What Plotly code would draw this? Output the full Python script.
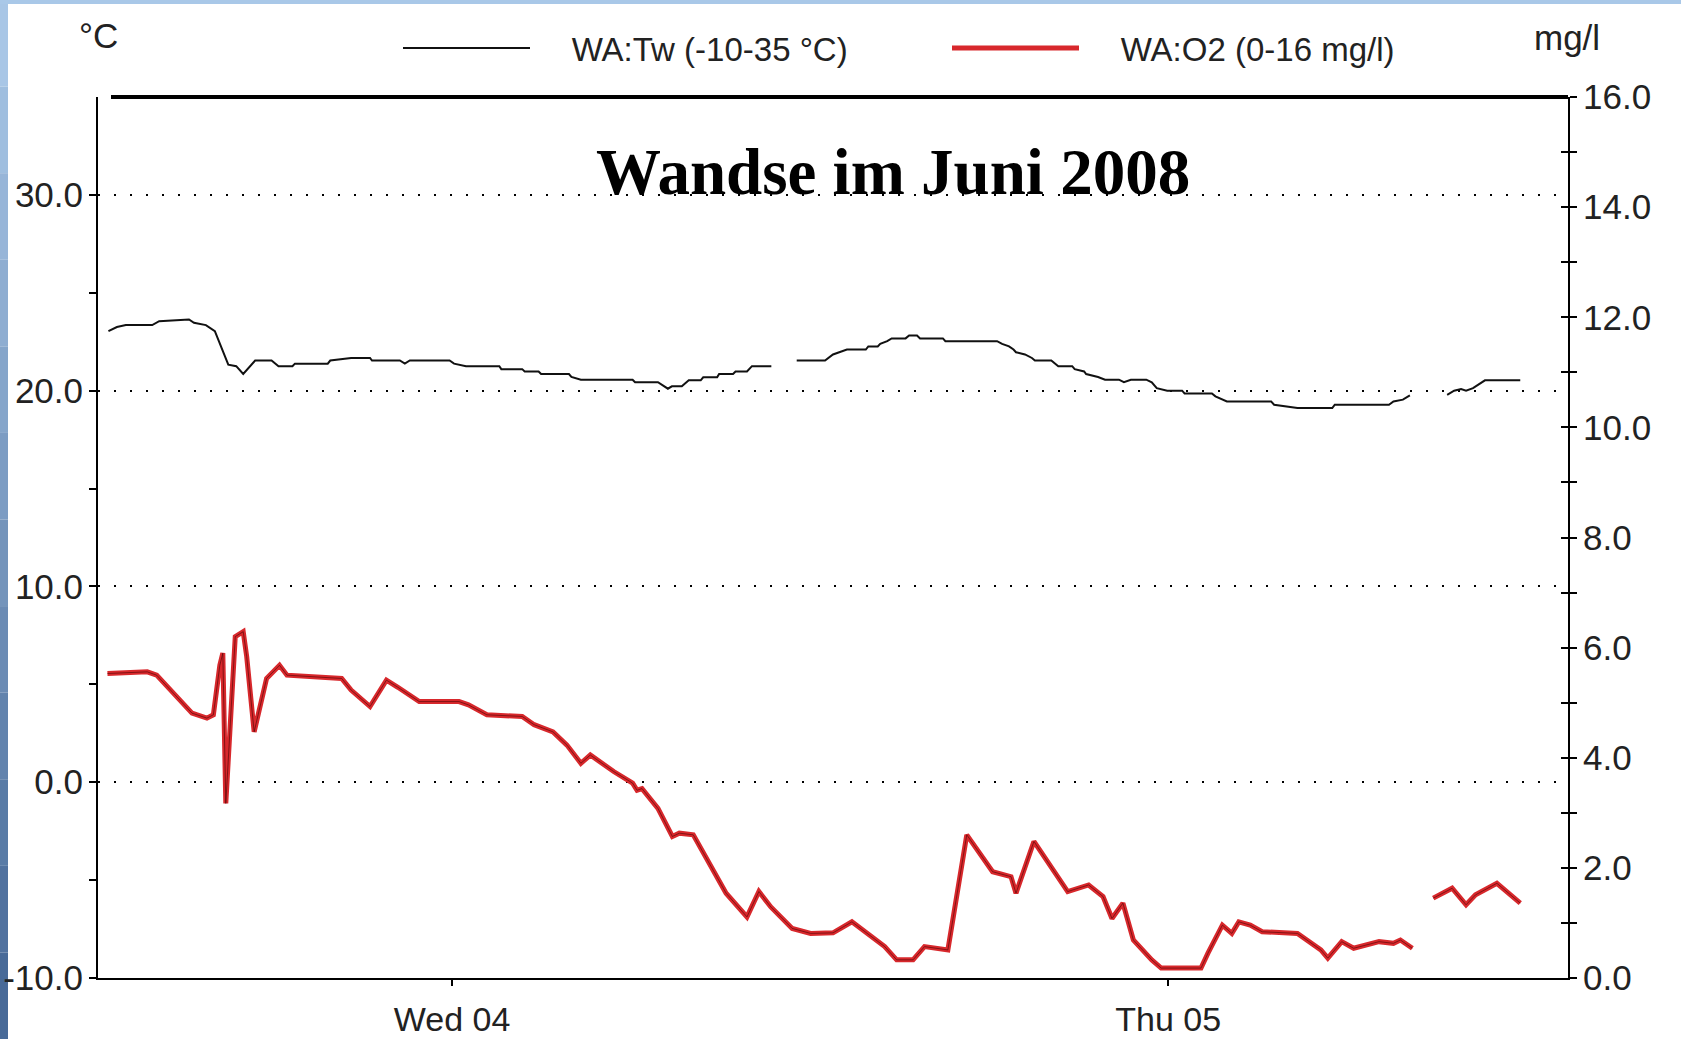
import plotly.graph_objects as go

# ---------------- data ----------------
temp_time = [
    "2008-06-03 12:29", "2008-06-03 12:46", "2008-06-03 13:04", "2008-06-03 13:57",
    "2008-06-03 14:11", "2008-06-03 15:11", "2008-06-03 15:21", "2008-06-03 15:45",
    "2008-06-03 16:03", "2008-06-03 16:17", "2008-06-03 16:30", "2008-06-03 16:46",
    "2008-06-03 17:00", "2008-06-03 17:24", "2008-06-03 17:57", "2008-06-03 18:11",
    "2008-06-03 18:39", "2008-06-03 18:44", "2008-06-03 19:50", "2008-06-03 19:55",
    "2008-06-03 20:37", "2008-06-03 21:15", "2008-06-03 21:19", "2008-06-03 22:15",
    "2008-06-03 22:25", "2008-06-03 22:35", "2008-06-03 23:55", "2008-06-04 00:04",
    "2008-06-04 00:28", "2008-06-04 01:35", "2008-06-04 01:39", "2008-06-04 02:21",
    "2008-06-04 02:26", "2008-06-04 02:54", "2008-06-04 02:59", "2008-06-04 03:55",
    "2008-06-04 04:00", "2008-06-04 04:19", "2008-06-04 06:03", "2008-06-04 06:08",
    "2008-06-04 06:54", "2008-06-04 07:14", "2008-06-04 07:22", "2008-06-04 07:42",
    "2008-06-04 07:56", "2008-06-04 08:20", "2008-06-04 08:25", "2008-06-04 08:53",
    "2008-06-04 08:57", "2008-06-04 09:25", "2008-06-04 09:30", "2008-06-04 09:53",
    "2008-06-04 10:03", "2008-06-04 10:42", "2008-06-04 11:08", "2008-06-04 11:33",
    "2008-06-04 12:30", "2008-06-04 12:46", "2008-06-04 12:56", "2008-06-04 13:14",
    "2008-06-04 13:52", "2008-06-04 13:57", "2008-06-04 14:16", "2008-06-04 14:21",
    "2008-06-04 14:35", "2008-06-04 14:44", "2008-06-04 15:12", "2008-06-04 15:19",
    "2008-06-04 15:35", "2008-06-04 15:41", "2008-06-04 16:27", "2008-06-04 16:32",
    "2008-06-04 18:16", "2008-06-04 18:26", "2008-06-04 18:40", "2008-06-04 18:49",
    "2008-06-04 18:54", "2008-06-04 19:12", "2008-06-04 19:26", "2008-06-04 19:32",
    "2008-06-04 20:05", "2008-06-04 20:14", "2008-06-04 20:19", "2008-06-04 20:47",
    "2008-06-04 20:52", "2008-06-04 21:11", "2008-06-04 21:15", "2008-06-04 21:39",
    "2008-06-04 21:53", "2008-06-04 22:21", "2008-06-04 22:31", "2008-06-04 22:45",
    "2008-06-04 23:16", "2008-06-04 23:27", "2008-06-04 23:37", "2008-06-04 23:58",
    "2008-06-05 00:28", "2008-06-05 00:33", "2008-06-05 01:28", "2008-06-05 01:35",
    "2008-06-05 01:58", "2008-06-05 03:27", "2008-06-05 03:33", "2008-06-05 04:20",
    "2008-06-05 05:30", "2008-06-05 05:35", "2008-06-05 07:24", "2008-06-05 07:33",
    "2008-06-05 07:52", "2008-06-05 08:06", "2008-06-05 08:40", "2008-06-05 09:21",
    "2008-06-05 09:35", "2008-06-05 09:49", "2008-06-05 09:59", "2008-06-05 10:13",
    "2008-06-05 10:23", "2008-06-05 10:37", "2008-06-05 11:48",
]
temp_val = [
    23.04, 23.25, 23.35, 23.35, 23.55, 23.64, 23.47, 23.35,
    23.04, 22.19, 21.33, 21.25, 20.85, 21.54, 21.54, 21.25,
    21.25, 21.38, 21.38, 21.54, 21.67, 21.67, 21.54, 21.54,
    21.38, 21.54, 21.54, 21.38, 21.25, 21.25, 21.10, 21.10,
    20.98, 20.98, 20.85, 20.85, 20.70, 20.56, 20.56, 20.43,
    20.43, 20.10, 20.22, 20.22, 20.53, 20.53, 20.68, 20.68,
    20.85, 20.85, 20.98, 20.98, 21.25, 21.25, None, 21.54,
    21.54, 21.85, 21.93, 22.10, 22.10, 22.26, 22.26, 22.39,
    22.53, 22.67, 22.67, 22.82, 22.82, 22.67, 22.67, 22.53,
    22.53, 22.39, 22.26, 22.10, 21.96, 21.85, 21.67, 21.54,
    21.54, 21.38, 21.25, 21.25, 21.10, 20.98, 20.85, 20.70,
    20.56, 20.56, 20.43, 20.56, 20.56, 20.43, 20.13, 20.00,
    20.00, 19.86, 19.86, 19.71, 19.45, 19.45, 19.28, 19.11,
    19.11, 19.28, 19.28, 19.45, 19.54, 19.76, None, 19.79,
    20.00, 20.08, 20.00, 20.13, 20.31, 20.53, 20.53,
]

o2_time = [
    "2008-06-03 12:27", "2008-06-03 13:47", "2008-06-03 14:06", "2008-06-03 15:17",
    "2008-06-03 15:47", "2008-06-03 16:00", "2008-06-03 16:13", "2008-06-03 16:19",
    "2008-06-03 16:25", "2008-06-03 16:44", "2008-06-03 17:00", "2008-06-03 17:07",
    "2008-06-03 17:22", "2008-06-03 17:47", "2008-06-03 18:13", "2008-06-03 18:28",
    "2008-06-03 20:18", "2008-06-03 20:37", "2008-06-03 21:15", "2008-06-03 21:48",
    "2008-06-03 22:11", "2008-06-03 22:54", "2008-06-04 00:14", "2008-06-04 00:33",
    "2008-06-04 01:10", "2008-06-04 02:21", "2008-06-04 02:45", "2008-06-04 03:23",
    "2008-06-04 03:51", "2008-06-04 04:19", "2008-06-04 04:38", "2008-06-04 05:25",
    "2008-06-04 06:03", "2008-06-04 06:12", "2008-06-04 06:22", "2008-06-04 06:54",
    "2008-06-04 07:23", "2008-06-04 07:37", "2008-06-04 08:05", "2008-06-04 08:34",
    "2008-06-04 09:11", "2008-06-04 09:53", "2008-06-04 10:17", "2008-06-04 10:41",
    "2008-06-04 11:24", "2008-06-04 12:01", "2008-06-04 12:46", "2008-06-04 13:24",
    "2008-06-04 14:11", "2008-06-04 14:30", "2008-06-04 14:54", "2008-06-04 15:27",
    "2008-06-04 15:50", "2008-06-04 16:37", "2008-06-04 17:15", "2008-06-04 18:07",
    "2008-06-04 18:44", "2008-06-04 18:54", "2008-06-04 19:30", "2008-06-04 20:00",
    "2008-06-04 20:38", "2008-06-04 21:20", "2008-06-04 21:49", "2008-06-04 22:07",
    "2008-06-04 22:29", "2008-06-04 22:50", "2008-06-04 23:27", "2008-06-04 23:46",
    "2008-06-05 01:06", "2008-06-05 01:20", "2008-06-05 01:49", "2008-06-05 02:08",
    "2008-06-05 02:22", "2008-06-05 02:45", "2008-06-05 03:09", "2008-06-05 04:20",
    "2008-06-05 05:07", "2008-06-05 05:21", "2008-06-05 05:49", "2008-06-05 06:13",
    "2008-06-05 07:04", "2008-06-05 07:33", "2008-06-05 07:47", "2008-06-05 08:11",
    "2008-06-05 08:30", "2008-06-05 08:53", "2008-06-05 09:31", "2008-06-05 09:59",
    "2008-06-05 10:18", "2008-06-05 11:01", "2008-06-05 11:48",
]
o2_val = [
    5.53, 5.56, 5.50, 4.81, 4.72, 4.78, 5.68, 5.90,
    3.17, 6.20, 6.29, 5.84, 4.47, 5.44, 5.68, 5.50,
    5.44, 5.23, 4.93, 5.41, 5.28, 5.02, 5.02, 4.96,
    4.78, 4.75, 4.60, 4.47, 4.23, 3.90, 4.05, 3.75,
    3.54, 3.41, 3.44, 3.08, 2.57, 2.63, 2.60, 2.14,
    1.54, 1.11, 1.57, 1.29, 0.90, 0.81, 0.82, 1.02,
    0.69, 0.57, 0.33, 0.33, 0.57, 0.51, 2.60, 1.93,
    1.84, 1.54, 2.48, 2.08, 1.57, 1.69, 1.48, 1.08,
    1.36, 0.69, 0.33, 0.18, 0.18, 0.45, 0.96, 0.81,
    1.02, 0.96, 0.84, 0.81, 0.51, 0.36, 0.66, 0.54,
    0.66, 0.63, 0.69, 0.54, None, 1.45, 1.63, 1.33,
    1.51, 1.72, 1.36,
]

x_range = ["2008-06-03 12:08", "2008-06-05 13:24"]
x_tickvals = ["2008-06-04 00:00", "2008-06-05 00:00"]
x_ticktext = ["Wed 04", "Thu 05"]

temp_major = [-10, 0, 10, 20, 30]
temp_minor = [-5, 5, 15, 25]
o2_major = [0, 2, 4, 6, 8, 10, 12, 14, 16]
o2_minor = [1, 3, 5, 7, 9, 11, 13, 15]

legend_tw = "WA:Tw (-10-35 °C)"
legend_o2 = "WA:O2 (0-16 mg/l)"
title_text = "Wandse im Juni 2008"

# ---------------- figure ----------------
FONT = "Liberation Sans, Arial, sans-serif"
W, H = 1681, 1039
L, R, T, B = 98, 113, 97, 61
PW, PH = W - L - R, H - T - B
GAP = "\u00a0" * 4

fig = go.Figure()

fig.add_trace(go.Scatter(
    x=temp_time, y=temp_val, mode="lines", name=GAP + legend_tw,
    line=dict(color="#111111", width=2), xaxis="x", yaxis="y",
))
fig.add_trace(go.Scatter(
    x=o2_time, y=o2_val, mode="lines", name=GAP + legend_o2,
    line=dict(color="#d8282c", width=5), xaxis="x", yaxis="y2",
))
fig.add_trace(go.Scatter(
    x=o2_time, y=o2_val, mode="lines", showlegend=False,
    line=dict(color="rgba(60,0,0,0.55)", width=1), xaxis="x", yaxis="y3",
))

# decorative blue frame (left gradient strip and top strip)
shapes = []
n = 12
c0 = (168, 198, 230)
c1 = (72, 106, 152)
for i in range(n):
    f = i / (n - 1)
    col = "rgb(%d,%d,%d)" % tuple(round(a + (b - a) * f) for a, b in zip(c0, c1))
    py_top = i * H / n
    py_bot = (i + 1) * H / n
    shapes.append(dict(
        type="rect", xref="paper", yref="paper", layer="below",
        x0=-L / PW, x1=(8 - L) / PW,
        y0=(H - B - py_bot) / PH, y1=(H - B - py_top) / PH,
        fillcolor=col, line=dict(width=0),
    ))
shapes.append(dict(
    type="rect", xref="paper", yref="paper", layer="below",
    x0=-L / PW, x1=(W - L) / PW, y0=(H - B - 4) / PH, y1=(H - B) / PH,
    fillcolor="#a9c8e8", line=dict(width=0),
))
# thick top border of the plot frame
shapes.append(dict(type="line", xref="paper", yref="paper", x0=(111 - L) / PW, x1=1,
                   y0=1, y1=1, line=dict(color="black", width=4)))

axis_font = dict(family=FONT, size=35, color="#222222")
xaxis_font = dict(family=FONT, size=34, color="#222222")

fig.update_layout(
    width=W, height=H,
    margin=dict(l=L, r=R, t=T, b=B, pad=0, autoexpand=False),
    paper_bgcolor="white", plot_bgcolor="white",
    showlegend=True,
    legend=dict(
        orientation="h", x=(398 - L) / PW, xanchor="left", y=1 + (T - 48) / PH, yanchor="middle",
        font=dict(family=FONT, size=33, color="#222222"),
        itemwidth=127, bgcolor="rgba(0,0,0,0)", borderwidth=0,
        entrywidth=407, entrywidthmode="pixels", traceorder="normal",
    ),
    xaxis=dict(
        type="date", range=x_range, tickvals=x_tickvals, ticktext=x_ticktext,
        showgrid=False, zeroline=False, showline=True, linecolor="black", linewidth=2,
        ticks="outside", ticklen=6, tickwidth=1.5, tickcolor="black",
        tickfont=xaxis_font, ticklabelstandoff=4, automargin=False,
    ),
    yaxis=dict(
        range=[-10, 35], tickvals=temp_major,
        ticktext=["%.1f" % v for v in temp_major],
        showgrid=True, gridcolor="black", gridwidth=1.5, griddash="2px,14px",
        zeroline=False, showline=True, linecolor="black", linewidth=2,
        ticks="outside", ticklen=7, tickwidth=1.5, tickcolor="black",
        minor=dict(tickvals=temp_minor, ticks="outside", ticklen=7, tickwidth=1.5,
                   tickcolor="black", showgrid=False),
        tickfont=axis_font, ticklabelstandoff=-1, automargin=False,
    ),
    yaxis2=dict(
        range=[0, 16], overlaying="y", side="right", tickvals=o2_major,
        ticktext=["%.1f" % v for v in o2_major],
        showgrid=False, zeroline=False, showline=True, linecolor="black", linewidth=2,
        ticks="outside", ticklen=7, tickwidth=1.5, tickcolor="black",
        minor=dict(tickvals=o2_minor, ticks="outside", ticklen=7, tickwidth=1.5,
                   tickcolor="black", showgrid=False),
        tickfont=axis_font, ticklabelstandoff=-1, automargin=False,
    ),
    yaxis3=dict(
        range=[0, 16], overlaying="y", side="right", tickvals=o2_major,
        showticklabels=False, showgrid=False, zeroline=False, showline=False,
        ticks="inside", ticklen=7, tickwidth=1.5, tickcolor="black",
        minor=dict(tickvals=o2_minor, ticks="inside", ticklen=7, tickwidth=1.5,
                   tickcolor="black", showgrid=False),
        automargin=False,
    ),
    shapes=shapes,
    annotations=[
        dict(text="<b>" + title_text + "</b>", xref="paper", yref="paper",
             x=(893 - L) / PW, y=1 - (172 - T) / PH,
             xanchor="center", yanchor="middle", showarrow=False,
             font=dict(family="Liberation Serif, Times New Roman, serif", size=65, color="black")),
        dict(text="°C", xref="paper", yref="paper", x=0, y=1 + (T - 35) / PH,
             xanchor="center", yanchor="middle", showarrow=False, font=axis_font),
        dict(text="mg/l", xref="paper", yref="paper", x=(1567 - L) / PW, y=1 + (T - 37) / PH,
             xanchor="center", yanchor="middle", showarrow=False, font=axis_font),
    ],
)

fig.write_html(
    "out.html",
    config={"displayModeBar": False},
    post_script="document.body.style.margin='0px';document.body.style.overflow='hidden';",
)
